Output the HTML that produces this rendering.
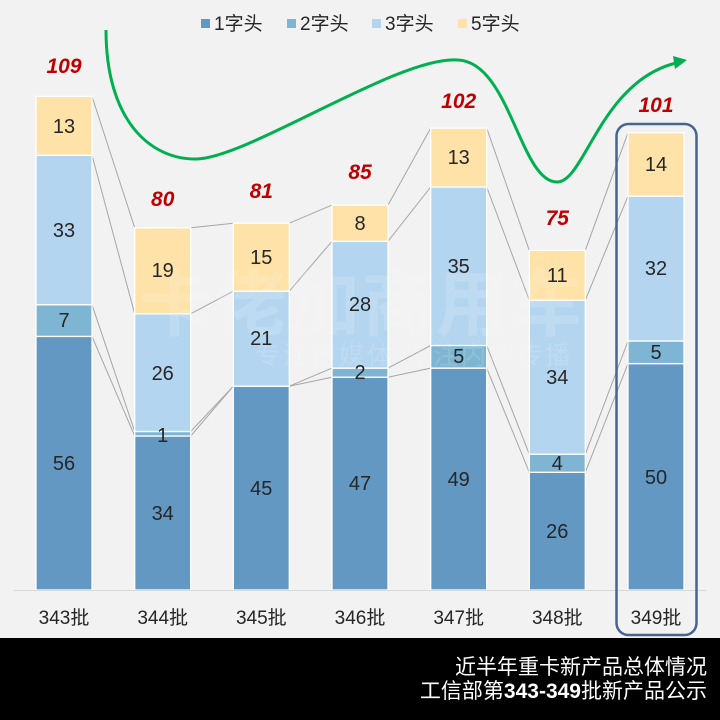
<!DOCTYPE html>
<html><head><meta charset="utf-8"><style>
html,body{margin:0;padding:0;background:#f2f2f2;}
svg{display:block;}
text{font-family:"Liberation Sans","Noto Sans CJK SC",sans-serif;}
</style></head><body>
<svg width="720" height="720" viewBox="0 0 720 720" xmlns="http://www.w3.org/2000/svg">
<rect x="0" y="0" width="720" height="720" fill="#f2f2f2"/>
<!-- legend -->
<g font-size="19" fill="#262626">
<rect x="201" y="19" width="9" height="9" fill="#6398c3"/><text x="214" y="30">1字头</text>
<rect x="287" y="19" width="9" height="9" fill="#7eb5d2"/><text x="300" y="30">2字头</text>
<rect x="372" y="19" width="9" height="9" fill="#b4d5ef"/><text x="385" y="30">3字头</text>
<rect x="458" y="19" width="9" height="9" fill="#fee2a8"/><text x="471" y="30">5字头</text>
</g>
<!-- connector lines -->
<g stroke="#a6a6a6" stroke-width="1" fill="none">
<line x1="92" y1="336.4" x2="134.7" y2="436.0"/><line x1="92" y1="304.7" x2="134.7" y2="431.5"/><line x1="92" y1="155.3" x2="134.7" y2="313.8"/><line x1="92" y1="96.4" x2="134.7" y2="227.8"/>
<line x1="190.7" y1="436.0" x2="233.3" y2="386.2"/><line x1="190.7" y1="431.5" x2="233.3" y2="386.2"/><line x1="190.7" y1="313.8" x2="233.3" y2="291.2"/><line x1="190.7" y1="227.8" x2="233.3" y2="223.2"/>
<line x1="289.3" y1="386.2" x2="332" y2="377.2"/><line x1="289.3" y1="386.2" x2="332" y2="368.1"/><line x1="289.3" y1="291.2" x2="332" y2="241.3"/><line x1="289.3" y1="223.2" x2="332" y2="205.1"/>
<line x1="388" y1="377.2" x2="430.7" y2="368.1"/><line x1="388" y1="368.1" x2="430.7" y2="345.5"/><line x1="388" y1="241.3" x2="430.7" y2="187.0"/><line x1="388" y1="205.1" x2="430.7" y2="128.1"/>
<line x1="486.7" y1="368.1" x2="529.3" y2="472.3"/><line x1="486.7" y1="345.5" x2="529.3" y2="454.2"/><line x1="486.7" y1="187.0" x2="529.3" y2="300.2"/><line x1="486.7" y1="128.1" x2="529.3" y2="250.4"/>
<line x1="585.3" y1="472.3" x2="628" y2="363.6"/><line x1="585.3" y1="454.2" x2="628" y2="341.0"/><line x1="585.3" y1="300.2" x2="628" y2="196.1"/><line x1="585.3" y1="250.4" x2="628" y2="132.7"/>
</g>
<!-- bars -->
<g stroke="#ffffff" stroke-width="1.3">
<rect x="36" y="336.4" width="56" height="253.6" fill="#6398c3"/><rect x="36" y="304.7" width="56" height="31.7" fill="#7eb5d2"/><rect x="36" y="155.3" width="56" height="149.4" fill="#b4d5ef"/><rect x="36" y="96.4" width="56" height="58.9" fill="#fee2a8"/>
<rect x="134.7" y="436.0" width="56" height="154" fill="#6398c3"/><rect x="134.7" y="431.5" width="56" height="4.5" fill="#7eb5d2"/><rect x="134.7" y="313.8" width="56" height="117.7" fill="#b4d5ef"/><rect x="134.7" y="227.8" width="56" height="86" fill="#fee2a8"/>
<rect x="233.3" y="386.2" width="56" height="203.8" fill="#6398c3"/><rect x="233.3" y="291.2" width="56" height="95" fill="#b4d5ef"/><rect x="233.3" y="223.2" width="56" height="68" fill="#fee2a8"/>
<rect x="332" y="377.2" width="56" height="212.8" fill="#6398c3"/><rect x="332" y="368.1" width="56" height="9.1" fill="#7eb5d2"/><rect x="332" y="241.3" width="56" height="126.8" fill="#b4d5ef"/><rect x="332" y="205.1" width="56" height="36.2" fill="#fee2a8"/>
<rect x="430.7" y="368.1" width="56" height="221.9" fill="#6398c3"/><rect x="430.7" y="345.5" width="56" height="22.6" fill="#7eb5d2"/><rect x="430.7" y="187.0" width="56" height="158.5" fill="#b4d5ef"/><rect x="430.7" y="128.1" width="56" height="58.9" fill="#fee2a8"/>
<rect x="529.3" y="472.3" width="56" height="117.7" fill="#6398c3"/><rect x="529.3" y="454.2" width="56" height="18.1" fill="#7eb5d2"/><rect x="529.3" y="300.2" width="56" height="154" fill="#b4d5ef"/><rect x="529.3" y="250.4" width="56" height="49.8" fill="#fee2a8"/>
<rect x="628" y="363.6" width="56" height="226.4" fill="#6398c3"/><rect x="628" y="341.0" width="56" height="22.6" fill="#7eb5d2"/><rect x="628" y="196.1" width="56" height="144.9" fill="#b4d5ef"/><rect x="628" y="132.7" width="56" height="63.4" fill="#fee2a8"/>
</g>
<!-- watermark -->
<g fill="#ffffff" opacity="0.14">
<text x="140" y="330" font-size="72" font-weight="bold" letter-spacing="2">卡佬加商用车</text>
<text x="255" y="364" font-size="25" letter-spacing="3">专注自媒体 专注内容传播</text>
</g>
<!-- axis -->
<line x1="14" y1="590.5" x2="706" y2="590.5" stroke="#d9d9d9" stroke-width="1"/>
<!-- data labels -->
<g font-size="20" fill="#262626" text-anchor="middle">
<text x="64" y="470">56</text><text x="64" y="327">7</text><text x="64" y="237">33</text><text x="64" y="133">13</text>
<text x="162.7" y="520">34</text><text x="162.7" y="442">1</text><text x="162.7" y="380">26</text><text x="162.7" y="277">19</text>
<text x="261.3" y="495">45</text><text x="261.3" y="345">21</text><text x="261.3" y="264">15</text>
<text x="360" y="490">47</text><text x="360" y="379">2</text><text x="360" y="311">28</text><text x="360" y="230">8</text>
<text x="458.7" y="486">49</text><text x="458.7" y="363">5</text><text x="458.7" y="273">35</text><text x="458.7" y="164">13</text>
<text x="557.3" y="538">26</text><text x="557.3" y="470">4</text><text x="557.3" y="384">34</text><text x="557.3" y="282">11</text>
<text x="656" y="484">50</text><text x="656" y="359">5</text><text x="656" y="275">32</text><text x="656" y="171">14</text>
</g>
<!-- totals -->
<g font-size="21" font-weight="bold" font-style="italic" fill="#c00000" text-anchor="middle">
<text x="64" y="73">109</text><text x="162.7" y="206">80</text><text x="261.3" y="198">81</text><text x="360" y="179">85</text>
<text x="458.7" y="108">102</text><text x="557.3" y="225">75</text><text x="656" y="112">101</text>
</g>
<!-- axis labels -->
<g font-size="19" fill="#262626" text-anchor="middle">
<text x="64" y="624">343批</text><text x="162.7" y="624">344批</text><text x="261.3" y="624">345批</text><text x="360" y="624">346批</text>
<text x="458.7" y="624">347批</text><text x="557.3" y="624">348批</text><text x="656" y="624">349批</text>
</g>
<!-- highlight box -->
<rect x="616.5" y="124" width="80" height="511" rx="12" ry="12" fill="none" stroke="#466591" stroke-width="2.5"/>
<!-- green curve -->
<path d="M106,30 C106,120 150,160 197,159 C250,157 400,55 458,60 C510,62 520,182 557,182 C585,182 600,82 676,63" fill="none" stroke="#00b050" stroke-width="3"/>
<polygon points="673,56 687,60 675,69" fill="#00b050"/>
<!-- footer -->
<rect x="0" y="638" width="720" height="82" fill="#000000"/>
<g fill="#ffffff" font-size="21" text-anchor="end">
<text x="707" y="674">近半年重卡新产品总体情况</text>
<text x="707" y="698">工信部第<tspan font-weight="bold">343-349</tspan>批新产品公示</text>
</g>
</svg>
</body></html>
